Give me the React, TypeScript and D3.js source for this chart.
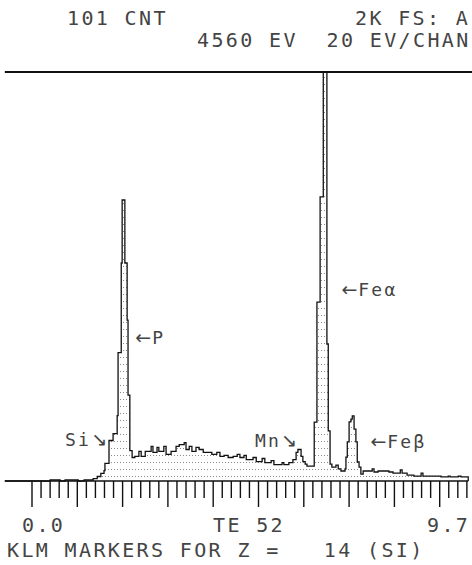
import React from "react";
import * as d3 from "d3";

const WIDTH = 472;
const HEIGHT = 565;

// spectrum as histogram steps: energy (keV) where a step starts, counts of that step
const energy = [
  -0.6, 0.4, 0.62, 0.73, 1.02, 1.15, 1.35, 1.44, 1.52, 1.59, 1.61, 1.7, 1.79, 1.88,
  1.9, 1.97, 1.99, 2.05, 2.1, 2.12, 2.16, 2.21, 2.27, 2.36, 2.41, 2.5, 2.63, 2.67,
  2.76, 2.8, 2.91, 2.96, 3.07, 3.18, 3.25, 3.36, 3.4, 3.47, 3.53, 3.62, 3.69, 3.78,
  3.97, 4.08, 4.15, 4.24, 4.33, 4.44, 4.53, 4.59, 4.68, 4.73, 4.88, 4.95, 5.08, 5.14,
  5.28, 5.34, 5.52, 5.56, 5.67, 5.76, 5.83, 5.87, 5.94, 5.98, 6.03, 6.07, 6.23, 6.29,
  6.36, 6.43, 6.51, 6.54, 6.58, 6.62, 6.71, 6.76, 6.82, 6.91, 6.93, 6.96, 7.0, 7.04,
  7.07, 7.11, 7.15, 7.18, 7.22, 7.26, 7.31, 7.51, 7.55, 7.64, 7.75, 7.88, 7.97, 8.13,
  8.17, 8.28, 8.43, 8.59, 8.63, 9.03, 9.19, 9.23, 9.41, 9.47, 9.63,
];
const counts = [
  0, 5, 0, 5, 0, 5, 12, 22, 37, 51, 86, 198, 232, 320,
  628, 1066, 1374, 1066, 787, 420, 149, 115, 120, 145, 120, 145, 169, 140,
  164, 145, 169, 130, 145, 169, 178, 188, 154, 169, 145, 164, 154, 140,
  130, 140, 120, 125, 115, 120, 130, 115, 125, 105, 115, 95, 110, 90,
  100, 80, 90, 80, 90, 105, 140, 154, 120, 95, 83, 73, 288, 875,
  1389, 2000, 670, 245, 83, 68, 78, 59, 49, 59, 117, 191, 289, 303,
  318, 254, 191, 93, 68, 34, 49, 59, 44, 49, 49, 44, 39, 54,
  39, 29, 24, 39, 24, 20, 24, 20, 24, 20, 0,
];

const majorTicks = d3.range(0, 10, 1);
const minorTicks = d3.range(0, 9.61, 0.2);

const headerLeft = "101 CNT";
const headerRight = "2K FS: A";
const headerLine2 = "4560 EV  20 EV/CHAN";
const axisStart = "0.0";
const axisMid = "TE 52";
const axisEnd = "9.7";
const footer = "KLM MARKERS FOR Z =   14 (SI)";

// element markers: leading arrow, label, trailing arrow
const markerPre = ["", "\u2190", "", "\u2190", "\u2190"];
const markerLabel = ["Si", "P", "Mn", "Fe\u03b1", "Fe\u03b2"];
const markerPost = ["\u2198", "", "\u2198", "", ""];
const markerEnergy = [0.73, 2.28, 4.92, 6.83, 7.47];
const markerCounts = [171, 670, 166, 905, 161];

export default function App() {
  const x = d3.scaleLinear().domain([0, 9.6]).range([32, 32 + 9.6 * 45.3]);
  const y = d3.scaleLinear().domain([0, 2000]).range([481, 72]).clamp(true);

  const pts = energy.map((e, i) => [e, counts[i]] as [number, number]);
  const line = d3
    .line<[number, number]>()
    .x((d) => x(d[0]))
    .y((d) => y(d[1]))
    .curve(d3.curveStepAfter);
  const area = d3
    .area<[number, number]>()
    .x((d) => x(d[0]))
    .y0(y(0))
    .y1((d) => y(d[1]))
    .curve(d3.curveStepAfter);

  const font = {
    fontFamily: "'DejaVu Sans Mono', monospace",
    fontSize: 20,
    letterSpacing: 2.36,
    fill: "#444",
    whiteSpace: "pre" as const,
  };
  const small = { ...font, fontSize: 18, letterSpacing: 2.2 };
  const arrow = { fontFamily: "'DejaVu Sans', sans-serif", fontSize: 19, letterSpacing: 1 };

  const x0 = x(energy[0]);
  const x1 = x(energy[energy.length - 1]);

  return (
    <svg
      width={WIDTH}
      height={HEIGHT}
      style={{ position: "absolute", left: 0, top: 0, background: "#fff" }}
    >
      <defs>
        <pattern id="dots" patternUnits="userSpaceOnUse" width={3} height={7}>
          <rect x={0} y={0} width={1} height={1} fill="#8a8a8a" />
        </pattern>
      </defs>

      <text x={67} y={25} style={font}>{headerLeft}</text>
      <text x={355} y={25} style={font}>{headerRight}</text>
      <text x={197} y={47} style={font}>{headerLine2}</text>

      {/* full scale line */}
      <line x1={x0} x2={WIDTH} y1={y(2000)} y2={y(2000)} stroke="#111" strokeWidth={2} />

      <path d={area(pts) ?? ""} fill="url(#dots)" />
      <path d={line(pts) ?? ""} fill="none" stroke="#111" strokeWidth={1.3} />

      {/* axis */}
      <line x1={x0} x2={x1} y1={y(0)} y2={y(0)} stroke="#111" strokeWidth={1.6} />
      {minorTicks.map((t) => {
        const major = majorTicks.some((m) => Math.abs(m - t) < 1e-6);
        return (
          <line
            key={t}
            x1={x(t)}
            x2={x(t)}
            y1={y(0)}
            y2={y(0) + (major ? 26 : 17)}
            stroke="#111"
            strokeWidth={1.4}
          />
        );
      })}

      {markerLabel.map((m, i) => (
        <text key={m} x={x(markerEnergy[i])} y={y(markerCounts[i])} style={small}>
          {markerPre[i] && <tspan style={arrow}>{markerPre[i]}</tspan>}
          {m}
          {markerPost[i] && <tspan style={arrow}>{markerPost[i]}</tspan>}
        </text>
      ))}

      <text x={22} y={532} style={font}>{axisStart}</text>
      <text x={213} y={532} style={font}>{axisMid}</text>
      <text x={427} y={532} style={font}>{axisEnd}</text>
      <text x={7} y={557} style={font}>{footer}</text>
    </svg>
  );
}
